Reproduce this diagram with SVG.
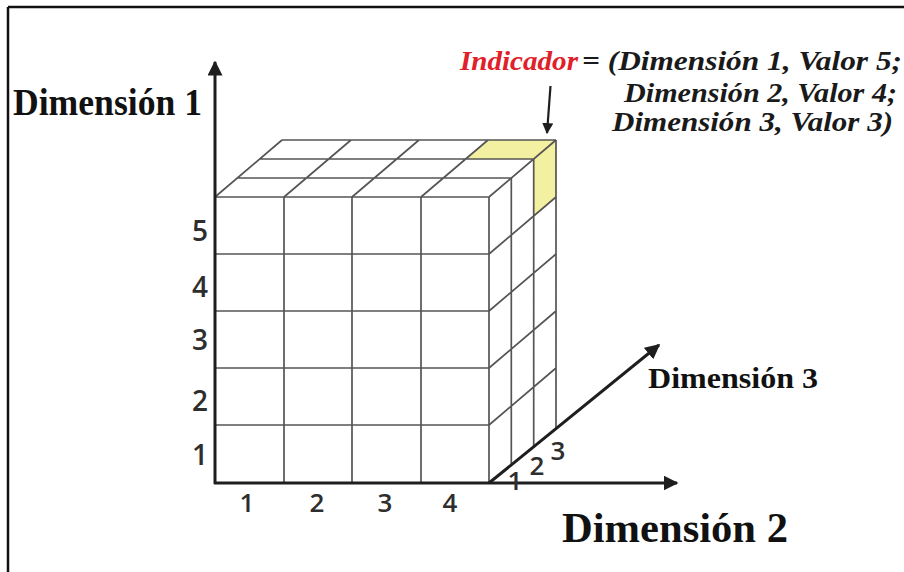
<svg xmlns="http://www.w3.org/2000/svg" width="904" height="572" viewBox="0 0 904 572">
<style>
.grid{stroke:#555;stroke-width:1.7;fill:none}
.axis{stroke:#1e1e1e;stroke-width:3;fill:none}
.num{font-family:"Open Sans","DejaVu Sans",sans-serif;font-weight:600;fill:#2e2e2e;text-anchor:middle}
.lbl{font-family:"Liberation Serif","Times New Roman",serif;font-weight:bold;fill:#111}
.ind{font-family:"Liberation Serif","Times New Roman",serif;font-weight:bold;font-style:italic;fill:#1a1a1a;font-size:27px}
.yel{fill:#f3f0a2;stroke:none}
</style>
<defs>
<marker id="ah" viewBox="0 0 10 10" refX="9" refY="5" markerWidth="5" markerHeight="5" orient="auto" markerUnits="strokeWidth">
<path d="M0,0 L10,5 L0,10 z" fill="#1e1e1e"/>
</marker>
</defs>
<rect width="904" height="572" fill="#fff"/>
<g id="frame">
<line x1="8" y1="7" x2="904" y2="7" stroke="#111" stroke-width="2.5"/>
<line x1="8" y1="7" x2="8" y2="572" stroke="#111" stroke-width="2.5"/>
</g>
<g id="cube">
<polygon class="yel" points="465.7,159 533.7,159 556,140 488,140"/>
<polygon class="yel" points="533.7,159 556,140 556,197 533.7,216"/>
<path class="grid" d="M215,197 H489 M215,254 H489 M215,311 H489 M215,368 H489 M215,425 H489 M284,197 V483 M352,197 V483 M421,197 V483 M489,197 V483"/>
<path class="grid" d="M237.3,178 H511.3 M259.7,159 H533.7 M282,140 H556 M215,197 L282,140 M284,197 L351,140 M352,197 L419,140 M421,197 L488,140 M489,197 L556,140"/>
<path class="grid" d="M511.3,178 V465 M533.7,159 V446 M556,140 V428 M489,254 L556,197 M489,311 L556,254 M489,368 L556,311 M489,425 L556,368"/>
</g>
<g id="connectors">
<line class="axis" x1="215" y1="484" x2="215" y2="62" marker-end="url(#ah)"/>
<line class="axis" x1="214" y1="483" x2="677" y2="483" marker-end="url(#ah)"/>
<line class="axis" x1="489" y1="483" x2="659" y2="345" stroke-width="2.6" marker-end="url(#ah)"/>
<line x1="550.5" y1="86" x2="547" y2="133" stroke="#1e1e1e" stroke-width="2.2" marker-end="url(#ah)"/>
</g>
<g id="dim1-ticks">
<text class="num" x="200" y="241" font-size="28">5</text>
<text class="num" x="200" y="297" font-size="28">4</text>
<text class="num" x="200" y="350" font-size="28">3</text>
<text class="num" x="200" y="411" font-size="28">2</text>
<text class="num" x="200" y="465" font-size="28">1</text>
</g>
<g id="dim2-ticks">
<text class="num" x="247" y="512" font-size="26">1</text>
<text class="num" x="317" y="512" font-size="26">2</text>
<text class="num" x="385" y="512" font-size="26">3</text>
<text class="num" x="450" y="512" font-size="26">4</text>
</g>
<g id="dim3-ticks">
<text class="num" x="515" y="490" font-size="26">1</text>
<text class="num" x="537" y="475" font-size="26">2</text>
<text class="num" x="558" y="460" font-size="26">3</text>
</g>
<g id="label-dim1"><text class="lbl" x="13" y="115" font-size="37" textLength="189" lengthAdjust="spacingAndGlyphs">Dimensión 1</text></g>
<g id="label-dim2"><text class="lbl" x="562" y="542" font-size="43" textLength="226" lengthAdjust="spacingAndGlyphs">Dimensión 2</text></g>
<g id="label-dim3"><text class="lbl" x="648" y="388" font-size="29" textLength="170" lengthAdjust="spacingAndGlyphs">Dimensión 3</text></g>
<g id="indicator">
<text class="ind" x="460" y="70" style="fill:#e0202a" textLength="118" lengthAdjust="spacingAndGlyphs">Indicador</text>
<text class="ind" x="582" y="70" textLength="320" lengthAdjust="spacingAndGlyphs">= (Dimensión 1, Valor 5;</text>
<text class="ind" x="624" y="102" textLength="273" lengthAdjust="spacingAndGlyphs">Dimensión 2, Valor 4;</text>
<text class="ind" x="612" y="131" textLength="281" lengthAdjust="spacingAndGlyphs">Dimensión 3, Valor 3)</text>
</g>
</svg>
